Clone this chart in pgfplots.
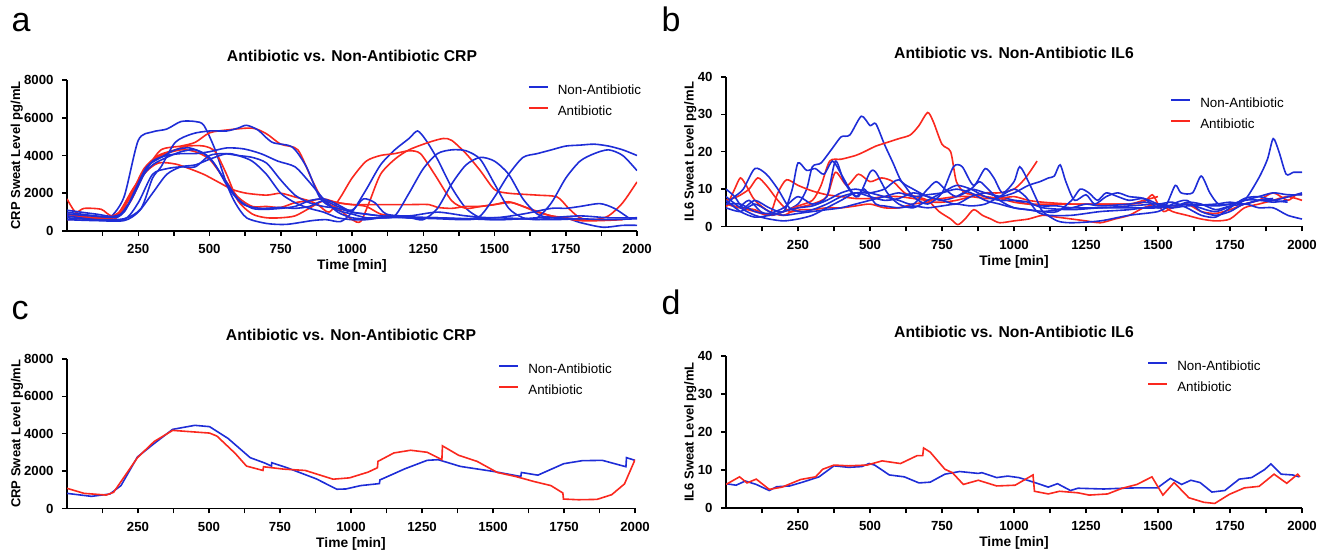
\documentclass[border=0pt]{standalone}
\usepackage{fontspec}
\setmainfont{Liberation Sans}
\usepackage{pgfplots}
\pgfplotsset{compat=1.18}
\definecolor{nblue}{RGB}{30,45,215}
\definecolor{ared}{RGB}{250,40,30}
\pgfplotsset{
 legend image code/.code={\draw[#1, line width=2pt, sharp plot] (0pt,4.5pt) -- (19pt,4.5pt);},
 panel/.style={
  scale only axis, anchor=south west,
  axis lines*=left, axis line style={line width=1.7pt, -},
  xmin=0, xmax=2000, ymin=0,
  xtick={250,500,...,2000}, minor xtick={125,375,...,1875},
  tick align=outside, major tick length=5pt, minor tick length=5pt,
  tick style={black, line width=1.5pt},
  tick label style={font=\bfseries\fontsize{13.2}{15}\selectfont},
  xticklabel shift=5pt, yticklabel shift=5pt,
  /pgf/number format/assume math mode=true,
  /pgf/number format/1000 sep={},
  scaled ticks=false,
  xlabel={Time [min]},
  xlabel style={font=\bfseries\fontsize{13.8}{15}\selectfont, at={(axis description cs:0.5,0)}, anchor=center, yshift=-35pt},
  ylabel style={font=\bfseries\fontsize{13}{14}\selectfont, anchor=center},
  title style={font=\bfseries\fontsize{15.7}{17}\selectfont, at={(axis description cs:0.5,1)}, anchor=center, yshift=18pt},
  legend style={draw=none, fill=none, inner sep=0pt, row sep=8pt, column sep=9pt,
    font=\fontsize{13.4}{15}\selectfont, nodes={inner sep=0pt, text height=10pt, text depth=3pt}},
  legend cell align=left,
  every axis plot/.append style={line width=1.6pt, no markers},
 },
 nb/.style={nblue, smooth, tension=0.45},
 ab/.style={ared, smooth, tension=0.45},
 nbl/.style={nblue, sharp plot},
 abl/.style={ared, sharp plot},
}
\begin{document}
\begin{tikzpicture}
\path[use as bounding box] (0pt,0pt) rectangle (1327pt,551pt);
\node[anchor=base west, font=\fontsize{34}{34}\selectfont] at (8pt,519pt) {a};
\node[anchor=base west, font=\fontsize{34}{34}\selectfont] at (658pt,519pt) {b};
\node[anchor=base west, font=\fontsize{34}{34}\selectfont] at (8pt,231pt) {c};
\node[anchor=base west, font=\fontsize{34}{34}\selectfont] at (658pt,236pt) {d};

% ---------------- panel a ----------------
\begin{axis}[panel, at={(67pt,320pt)}, width=570pt, height=151pt,
  ymax=8000, ytick={0,2000,...,8000},
  title={Antibiotic vs. Non-Antibiotic CRP},
  ylabel={CRP Sweat Level pg/mL},
  ylabel style={at={(axis description cs:-0.088,0.5)}},
  legend style={at={(axis description cs:0.808,1)}, anchor=north west, yshift=-4.5pt}]
\addplot[nb] coordinates {(0,900)(50,800)(100,650)(150,700)(200,1800)(250,4800)(300,5250)(350,5400)(400,5800)(450,5800)(480,5600)(520,4300)(560,2500)(590,1500)(630,700)(700,400)(770,350)(860,550)(910,600)(960,500)(1000,1000)(1050,2200)(1100,3500)(1150,4300)(1200,4900)(1230,5300)(1260,4800)(1300,3800)(1350,2300)(1400,1200)(1450,700)(1500,600)(1600,650)(1700,750)(1750,700)(1800,450)(1880,200)(1950,300)(2000,300)};
\addlegendentry{Non-Antibiotic}
\addplot[ab] coordinates {(0,800)(100,700)(170,750)(230,2200)(280,3300)(330,4300)(400,4500)(450,4700)(500,5200)(560,5350)(650,5450)(700,5150)(750,4600)(810,4300)(860,2700)(900,1600)(950,1200)(1000,600)(1030,500)(1060,1500)(1100,3000)(1150,3800)(1200,4300)(1270,4700)(1320,4900)(1350,4800)(1400,4100)(1450,3200)(1500,2200)(1550,2000)(1650,1900)(1720,1800)(1760,1200)(1800,700)(1850,600)(1900,800)(1950,1500)(2000,2600)};
\addlegendentry{Antibiotic}
\addplot[ab, forget plot] coordinates {(0,1700)(30,1000)(60,1200)(120,1150)(160,800)(220,1500)(270,3000)(320,3600)(380,3550)(430,3300)(480,3000)(530,2600)(580,2200)(630,2000)(700,1900)(750,2000)(800,1800)(850,1600)(880,1400)(920,1000)(960,1800)(1000,2800)(1050,3700)(1100,4000)(1150,4100)(1200,4250)(1240,4100)(1290,3000)(1350,1600)(1400,1200)(1450,1300)(1500,1400)(1560,1500)(1620,1200)(1700,800)(1800,550)(1870,550)(1950,600)};
\addplot[ab, forget plot] coordinates {(0,900)(100,700)(170,800)(220,1800)(270,3300)(320,4000)(380,4300)(420,4500)(480,4500)(520,4200)(560,3000)(600,1600)(650,900)(700,700)(750,700)(800,800)(850,1200)(900,1600)(950,1500)(1000,1400)(1100,1400)(1200,1400)(1270,1400)(1300,1250)(1350,1200)(1400,1300)(1450,1300)(1500,1400)(1550,1550)(1600,1300)(1650,1000)(1700,800)(1750,700)(1800,600)(1850,600)};
\addplot[ab, forget plot] coordinates {(0,600)(100,700)(170,650)(230,2000)(280,3400)(330,4000)(400,4300)(450,4200)(500,3800)(550,2800)(600,1800)(650,1300)(700,1300)(750,1250)(800,1500)(850,1600)(900,1700)(950,1500)(1000,1400)(1050,1300)(1100,900)(1150,800)};
\addplot[nb, forget plot] coordinates {(0,700)(100,600)(200,650)(260,1200)(300,2800)(330,3400)(380,4700)(440,5150)(500,5300)(560,5300)(600,5450)(630,5600)(670,5350)(720,4700)(790,4450)(840,3400)(890,1700)(950,1100)(1000,900)(1050,700)(1100,700)(1150,800)(1200,2000)(1250,3300)(1300,4100)(1350,4300)(1400,4250)(1450,3800)(1500,2500)(1550,1200)(1600,700)(1650,600)(1700,700)(1800,800)(1900,700)(2000,700)};
\addplot[nb, forget plot] coordinates {(0,1100)(100,900)(180,800)(230,1800)(270,3000)(300,3700)(350,4000)(400,4100)(450,4100)(500,4200)(560,4400)(620,4350)(680,4100)(740,3700)(800,3400)(850,2600)(900,1700)(950,1000)(1000,700)(1050,650)(1100,700)(1200,700)(1250,600)(1300,1200)(1350,2500)(1400,3500)(1450,3900)(1500,3700)(1550,3000)(1600,1700)(1650,900)(1700,700)(1800,650)(1900,600)(2000,650)};
\addplot[nb, forget plot] coordinates {(0,800)(100,600)(200,600)(250,1500)(300,3000)(350,3300)(400,3400)(450,3400)(500,4000)(550,4100)(600,4000)(650,3900)(700,3600)(750,2700)(800,1900)(850,1500)(900,1300)(950,1200)(1000,1000)(1100,800)(1200,750)(1300,700)(1400,650)(1450,800)(1500,1800)(1550,3000)(1600,3900)(1650,4100)(1700,4300)(1750,4500)(1800,4550)(1850,4600)(1900,4500)(1950,4300)(2000,4000)};
\addplot[nb, forget plot] coordinates {(0,1000)(100,800)(180,750)(220,1500)(260,2800)(300,3500)(350,3900)(400,4200)(450,4300)(500,3900)(550,2800)(600,1700)(650,1200)(700,1150)(750,1200)(800,1300)(850,1600)(900,1700)(950,1400)(1000,1000)(1050,900)(1100,800)(1200,700)(1300,700)(1400,650)(1500,600)(1600,650)(1650,700)(1700,1500)(1750,2800)(1800,3700)(1850,4100)(1900,4300)(1950,4000)(2000,3200)};
\addplot[nb, forget plot] coordinates {(0,900)(80,800)(150,750)(200,1000)(240,2200)(280,3400)(330,3900)(380,4300)(430,4400)(480,4100)(520,3500)(570,2200)(620,1400)(680,1200)(750,1250)(800,1200)(850,1300)(900,1600)(950,1300)(1000,1100)(1040,1700)(1080,1500)(1120,900)(1200,800)(1300,1000)(1400,800)(1500,700)(1600,900)(1700,1200)(1750,1200)(1800,1300)(1870,1450)(1920,1200)(1970,700)};
\addplot[nb, forget plot] coordinates {(0,600)(100,550)(200,550)(250,1000)(300,2000)(350,3000)(400,3400)(450,3500)(500,3800)(560,4100)(600,4000)(650,3700)(700,3000)(750,2000)(800,1500)(850,1200)(900,1000)(950,700)(1000,600)(1050,600)(1100,700)(1150,800)(1200,700)(1300,650)(1400,600)(1500,700)(1600,650)(1700,600)(1800,650)};
\end{axis}

% ---------------- panel b ----------------
\begin{axis}[panel, at={(726pt,324.5pt)}, width=576pt, height=149.5pt,
  ymax=40, ytick={0,10,...,40},
  title={Antibiotic vs. Non-Antibiotic IL6},
  ylabel={IL6 Sweat Level pg/mL},
  ylabel style={at={(axis description cs:-0.062,0.5)}},
  legend style={at={(axis description cs:0.771,1)}, anchor=north west, yshift=-20.5pt}]
\addplot[nb] coordinates {(0,7)(40,5)(80,7)(120,4)(160,3)(200,4)(250,6)(280,10)(300,16)(330,17)(370,21)(400,24)(430,24.5)(470,29.5)(500,27)(520,27.5)(550,22)(580,17)(610,12)(650,10)(700,8)(750,7)(800,8)(850,10)(900,9)(950,8)(1000,7)(1050,6)(1100,5.5)(1150,5.5)(1200,5)(1300,5)(1400,5.5)(1500,6)(1550,5.5)(1600,6)(1700,5.5)(1750,6)(1800,7)(1850,13)(1880,18)(1900,23.5)(1920,20)(1945,14)(1970,14.5)(2000,14.5)};
\addlegendentry{Non-Antibiotic}
\addplot[ab] coordinates {(0,6)(50,5)(100,4)(150,3)(200,4)(250,5.5)(300,7)(330,11)(360,17.5)(400,18)(450,19)(480,20)(520,21.5)(560,22.5)(600,23.5)(640,24.5)(670,27)(700,30.5)(720,28)(750,22)(780,20)(800,12)(830,9)(870,8.5)(900,8)(950,7.5)(1000,6.5)(1050,6)(1100,6)(1200,6)(1300,6)(1400,6)(1450,6.5)(1480,8.5)(1500,6)(1520,4)(1550,5)(1600,6)(1650,4)(1700,3.5)(1750,4.5)(1800,6)(1850,7)(1900,9)(1950,7)(1980,8.5)(2000,8.5)};
\addlegendentry{Antibiotic}
\addplot[ab, forget plot] coordinates {(0,5)(30,10)(50,13)(70,11)(100,7)(150,4)(200,3)(250,5)(300,6)(350,8)(380,14.5)(420,11)(460,14)(500,12)(540,13)(580,12)(620,9)(660,8)(700,7)(740,4)(780,2)(805,0.5)(830,2)(860,4.5)(890,3)(920,2)(950,1)(1000,1.5)(1050,2)(1100,3)(1150,2.5)(1200,2)(1250,1.5)(1300,1)(1350,2)(1400,3)(1450,5)(1500,6)(1550,4)(1600,3)(1650,2)(1700,1.5)(1750,2)(1800,5)(1850,6)(1900,7)(1950,8)(2000,7)};
\addplot[ab, forget plot] coordinates {(0,7)(40,8)(80,10)(110,13)(140,11)(180,7)(220,4)(260,4.5)(300,4.5)(350,5)(400,5)(450,5.5)(500,6)(550,5)(600,5)(650,6)(700,6.5)(750,6.5)(800,7)(850,8)(900,9)(950,9)(1000,10)(1040,13)(1080,17.5)};
\addplot[ab, forget plot] coordinates {(0,6)(50,5)(100,4.5)(150,3)(180,9)(210,12.5)(250,11)(300,9.5)(350,8.5)(400,8)(450,7.5)(500,7.5)(550,8)(600,8)(650,7.5)(700,7)(750,7.5)(800,8)(850,8)(900,7.5)(950,7.5)(1000,8)(1050,7)(1100,6.5)(1200,6)(1300,6)(1400,6)(1450,7)(1500,8)};
\addplot[nb, forget plot] coordinates {(0,10)(30,8)(60,5)(100,7)(150,5)(200,4)(230,10)(250,17)(280,15)(310,15.5)(340,14)(370,17.5)(400,14)(430,10)(460,8)(500,14.5)(520,14.5)(560,9)(600,6)(650,5)(700,7)(750,9)(800,11)(850,10)(900,8)(950,7)(1000,7)(1050,6.5)(1100,5)(1200,4.5)(1300,5)(1400,5)(1500,5)(1600,6)(1700,4)(1800,7)(1900,7)(2000,9)};
\addplot[nb, forget plot] coordinates {(0,6)(30,8)(60,10)(100,15.5)(140,14)(180,10)(220,5)(260,4)(300,4.5)(350,6)(400,8)(450,9)(500,9)(550,10)(600,12.5)(650,8)(700,6)(750,9)(790,16)(820,16)(860,11)(900,15.5)(930,13)(960,9)(1000,12)(1020,16)(1050,12)(1080,7)(1100,4)(1150,1.5)(1200,1)(1300,1.5)(1400,3)(1500,4)(1550,6)(1600,7)(1650,4)(1700,3)(1750,4)(1800,6)(1850,5)(1900,5)(1950,3)(2000,2)};
\addplot[nb, forget plot] coordinates {(0,8)(50,5)(100,3)(150,2)(200,1.5)(250,2)(300,3)(350,5)(400,7)(450,9)(500,8)(550,7)(600,7.5)(650,9)(700,8)(750,7)(800,6)(850,8)(900,9)(950,8)(1000,9)(1050,11)(1090,12)(1120,13)(1140,13.5)(1160,16.5)(1180,12)(1210,7)(1250,8.5)(1280,6)(1320,8)(1360,9)(1400,8)(1450,7.5)(1500,5)(1530,6)(1560,11)(1580,9)(1620,9)(1650,13.5)(1680,9)(1710,6)(1750,6)(1800,7)(1850,8)(1900,9)(1950,8.5)(2000,8.5)};
\addplot[nb, forget plot] coordinates {(0,7)(50,4)(100,2.5)(150,3)(200,4)(250,5)(300,5.5)(350,7)(400,9)(450,10)(500,9)(550,8)(600,7)(650,6)(700,10)(730,12)(760,10)(800,8)(850,10)(880,12)(910,10)(950,7)(1000,5)(1050,4.5)(1100,4)(1200,5)(1250,6)(1300,5.5)(1400,6)(1450,6.5)(1500,6)(1550,6.5)(1600,5)(1650,3)(1700,2.5)(1750,5)(1800,7.5)(1850,8)(1900,7)(1950,6.5)};
\addplot[nb, forget plot] coordinates {(0,5)(50,4)(100,6)(150,4)(200,3)(250,3.5)(300,4)(350,4.5)(400,5)(450,6)(500,7)(550,8)(600,9)(650,8)(700,8.5)(750,9)(800,10)(850,9)(900,7)(950,6)(1000,5)(1100,4)(1150,4)(1200,7)(1230,10)(1260,9)(1290,7)(1320,9)(1360,8)(1400,7)(1450,7.5)(1500,6)(1550,5)(1600,6.5)(1650,6)(1700,4.5)(1750,5.5)(1800,6)(1850,7)(1900,7.5)};
\addplot[nb, forget plot] coordinates {(0,6)(50,6)(100,4)(150,3.5)(200,5)(250,8)(300,6)(350,8)(380,17.5)(410,12)(450,8)(480,10)(520,6)(550,5.5)(600,5)(650,5.5)(700,5)(750,5.5)(800,6)(850,5.5)(900,6)(950,8)(1000,10)(1040,8)(1080,4)(1120,3)(1200,3)(1300,4)(1400,4.5)(1500,5.5)(1550,5)(1600,5.5)(1700,6)(1750,6.5)(1800,6)(1850,7)(1900,6.5)(1950,7)};
\end{axis}

% ---------------- panel c ----------------
\begin{axis}[panel, at={(67pt,42.5pt)}, width=568pt, height=149.5pt,
  ymax=8000, ytick={0,2000,...,8000},
  title={Antibiotic vs. Non-Antibiotic CRP},
  ylabel={CRP Sweat Level pg/mL},
  ylabel style={at={(axis description cs:-0.088,0.5)}},
  legend style={at={(axis description cs:0.759,1)}, anchor=north west, yshift=-4.5pt}]
\addplot[nbl] coordinates {(0,810)(86,650)(151,775)(190,1225)(248,2757)(307,3478)(372,4235)(450,4450)(502,4380)(567,3750)(645,2720)(697,2430)(720,2270)(721,2450)(775,2180)(878,1585)(950,1030)(982,1045)(1034,1225)(1100,1333)(1102,1530)(1190,2126)(1268,2577)(1307,2613)(1385,2252)(1502,1982)(1598,1712)(1600,1928)(1658,1784)(1749,2397)(1814,2559)(1885,2577)(1968,2235)(1970,2721)(2000,2577)};
\addlegendentry{Non-Antibiotic}
\addplot[abl] coordinates {(0,1080)(60,810)(138,720)(164,865)(248,2720)(307,3585)(372,4180)(437,4108)(502,4036)(528,3874)(593,2937)(632,2270)(690,2036)(692,2234)(762,2108)(839,2036)(937,1568)(995,1640)(1060,1946)(1093,2180)(1095,2522)(1151,2973)(1210,3117)(1268,3009)(1320,2613)(1322,3352)(1379,2847)(1444,2522)(1515,1928)(1580,1712)(1645,1441)(1704,1225)(1746,829)(1748,505)(1801,469)(1866,487)(1918,739)(1963,1315)(2000,2613)};
\addlegendentry{Antibiotic}
\end{axis}

% ---------------- panel d ----------------
\begin{axis}[panel, at={(726pt,43pt)}, width=576pt, height=152pt,
  ymax=40, ytick={0,10,...,40},
  title={Antibiotic vs. Non-Antibiotic IL6},
  ylabel={IL6 Sweat Level pg/mL},
  ylabel style={at={(axis description cs:-0.062,0.5)}},
  legend style={at={(axis description cs:0.731,1)}, anchor=north west, yshift=-4.5pt}]
\addplot[nbl] coordinates {(0,6.4)(35,6.0)(67,7.1)(105,6.2)(150,4.6)(176,5.6)(221,5.8)(266,6.8)(323,8.2)(375,11.1)(426,10.7)(471,10.9)(497,11.7)(516,11.3)(567,8.7)(619,8.2)(670,6.6)(709,6.8)(760,8.9)(811,9.6)(876,9.1)(888,9.3)(940,8.0)(978,8.4)(1017,8.0)(1068,6.8)(1119,5.5)(1151,6.4)(1196,4.6)(1222,5.2)(1312,5.0)(1376,5.2)(1427,5.3)(1498,5.3)(1543,7.8)(1582,6.2)(1614,7.3)(1646,6.7)(1687,4.2)(1732,4.6)(1782,7.6)(1825,8.0)(1870,10.1)(1892,11.6)(1928,8.9)(1967,8.7)(1990,8.2)};
\addlegendentry{Non-Antibiotic}
\addplot[abl] coordinates {(0,6.2)(47,8.2)(73,6.6)(105,7.6)(150,4.9)(195,5.5)(259,7.5)(311,8.2)(336,10.2)(375,11.3)(426,11.1)(490,11.3)(542,12.4)(606,11.7)(664,13.8)(683,13.8)(686,15.8)(709,14.7)(760,10.2)(786,9.3)(824,6.2)(876,7.3)(940,5.8)(1004,6.0)(1066,8.7)(1071,4.4)(1119,3.7)(1158,4.4)(1222,4.0)(1261,3.4)(1325,3.7)(1376,5.2)(1427,6.2)(1479,8.2)(1517,3.4)(1556,6.7)(1607,2.7)(1659,1.5)(1697,1.2)(1748,3.6)(1800,5.3)(1851,5.7)(1903,8.9)(1947,6.5)(1985,8.9)(1993,8.2)};
\addlegendentry{Antibiotic}
\end{axis}
\end{tikzpicture}
\end{document}
